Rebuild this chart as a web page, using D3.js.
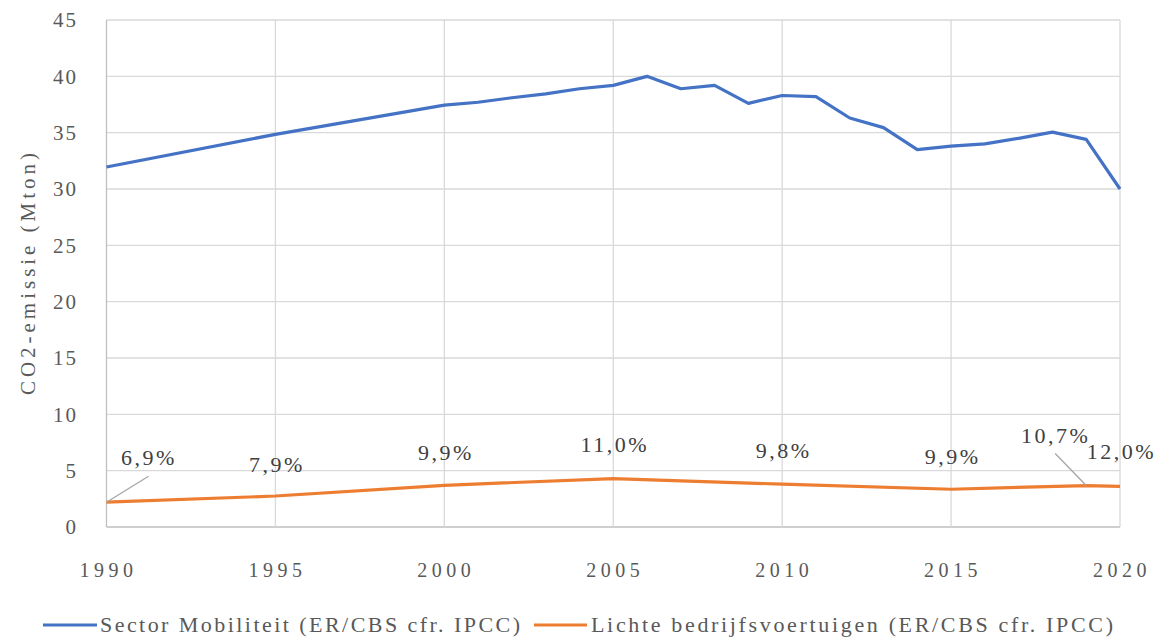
<!DOCTYPE html>
<html>
<head>
<meta charset="utf-8">
<script src="https://cdn.jsdelivr.net/npm/d3@7"></script>
<style>
  body { margin: 0; background: #fff; }
  svg text { font-family: "Liberation Serif", "DejaVu Serif", serif; font-variant-numeric: oldstyle-nums; }
</style>
</head>
<body>
<div id="chart"></div>
<script>
// data
const mobYears = [1990, 1995, 2000, 2001, 2002, 2003, 2004, 2005, 2006, 2007, 2008, 2009, 2010,
  2011, 2012, 2013, 2014, 2015, 2016, 2017, 2018, 2019, 2020];
const mobValues = [31.95, 34.85, 37.45, 37.7, 38.1, 38.45, 38.9, 39.2, 40.0, 38.9, 39.2, 37.6, 38.3,
  38.2, 36.3, 35.45, 33.5, 33.8, 34.0, 34.5, 35.05, 34.4, 30.0];

const lbvYears = [1990, 1995, 2000, 2005, 2010, 2015, 2019, 2020];
const lbvValues = [2.2, 2.75, 3.7, 4.3, 3.8, 3.35, 3.68, 3.6];
const lbvLabels = ['6,9%', '7,9%', '9,9%', '11,0%', '9,8%', '9,9%', '10,7%', '12,0%'];

const seriesNames = ['Sector Mobiliteit (ER/CBS cfr. IPCC)', 'Lichte bedrijfsvoertuigen (ER/CBS cfr. IPCC)'];
const xTicks = [1990, 1995, 2000, 2005, 2010, 2015, 2020];
const yTicks = [0, 5, 10, 15, 20, 25, 30, 35, 40, 45];

const width = 1158, height = 641;
const colors = ['#4472C4', '#ED7D31'];
const gridColor = '#D9D9D9';
const textColor = '#595959';

const svg = d3.select('#chart').append('svg')
  .attr('width', width).attr('height', height);

const x = d3.scaleLinear().domain([1990, 2020]).range([106.5, 1120]);
const y = d3.scaleLinear().domain([0, 45]).range([527, 20]);

// gridlines
svg.append('g').selectAll('line').data(yTicks).join('line')
  .attr('x1', x(1990)).attr('x2', x(2020))
  .attr('y1', d => y(d)).attr('y2', d => y(d))
  .attr('stroke', d => d === 0 ? '#BFBFBF' : gridColor).attr('stroke-width', 1.3);

svg.append('g').selectAll('line').data(xTicks).join('line')
  .attr('x1', d => x(d)).attr('x2', d => x(d))
  .attr('y1', y(0)).attr('y2', y(45))
  .attr('stroke', d => d === 1990 ? '#BFBFBF' : gridColor).attr('stroke-width', 1.3);

// y tick labels
svg.append('g').selectAll('text').data(yTicks).join('text')
  .attr('x', 78).attr('y', d => y(d)).attr('dy', '0.35em')
  .attr('text-anchor', 'end')
  .attr('fill', textColor).style('font-size', '21px').style('letter-spacing', '2px')
  .text(d => d);

// x tick labels
svg.append('g').selectAll('text').data(xTicks).join('text')
  .attr('x', d => x(d) + 2).attr('y', 577)
  .attr('text-anchor', 'middle')
  .attr('fill', textColor).style('font-size', '20px').style('letter-spacing', '4.5px')
  .text(d => d);

// y axis title
svg.append('text')
  .attr('transform', 'translate(35,274) rotate(-90)')
  .attr('text-anchor', 'middle')
  .attr('fill', textColor).style('font-size', '21px')
  .attr('textLength', 242).attr('lengthAdjust', 'spacing')
  .text('CO2-emissie (Mton)');

const line = d3.line().x(d => x(d[0])).y(d => y(d[1]));

svg.append('path')
  .datum(d3.zip(mobYears, mobValues))
  .attr('fill', 'none').attr('stroke', colors[0]).attr('stroke-width', 3.2)
  .attr('stroke-linejoin', 'round')
  .attr('d', line);

svg.append('path')
  .datum(d3.zip(lbvYears, lbvValues))
  .attr('fill', 'none').attr('stroke', colors[1]).attr('stroke-width', 3.2)
  .attr('stroke-linejoin', 'round')
  .attr('d', line);

// data label offsets (label centre / baseline relative to the point)
const labelDx = [41, 0, 0, 0, 0, 0, -32, 0];
const labelDy = [-37, -24, -25, -27, -26, -25, -43, -27];

// leader lines for moved labels
[0, 6].forEach(i => {
  const px = x(lbvYears[i]), py = y(lbvValues[i]);
  const lx = i === 0 ? px + 42 : px - 31;
  const ly = i === 0 ? py - 26 : py - 32;
  svg.append('line')
    .attr('x1', px).attr('y1', py).attr('x2', lx).attr('y2', ly)
    .attr('stroke', '#A6A6A6').attr('stroke-width', 1.3);
});

svg.append('g').selectAll('text').data(lbvYears).join('text')
  .attr('x', (d, i) => x(d) + labelDx[i] + 1.5)
  .attr('y', (d, i) => y(lbvValues[i]) + labelDy[i])
  .attr('text-anchor', 'middle')
  .attr('fill', '#404040').style('font-size', '22px').style('letter-spacing', '2.5px')
  .text((d, i) => lbvLabels[i]);

// legend
const legendItems = [
  { x1: 43, x2: 97, tx: 100, tw: 420 },
  { x1: 534, x2: 587, tx: 591, tw: 522 }
];
const legend = svg.append('g');
legendItems.forEach((it, i) => {
  legend.append('line')
    .attr('x1', it.x1).attr('x2', it.x2).attr('y1', 625).attr('y2', 625)
    .attr('stroke', colors[i]).attr('stroke-width', 3);
  legend.append('text')
    .attr('x', it.tx).attr('y', 632)
    .attr('fill', textColor).style('font-size', '22px')
    .attr('textLength', it.tw).attr('lengthAdjust', 'spacing')
    .text(seriesNames[i]);
});
</script>
</body>
</html>
